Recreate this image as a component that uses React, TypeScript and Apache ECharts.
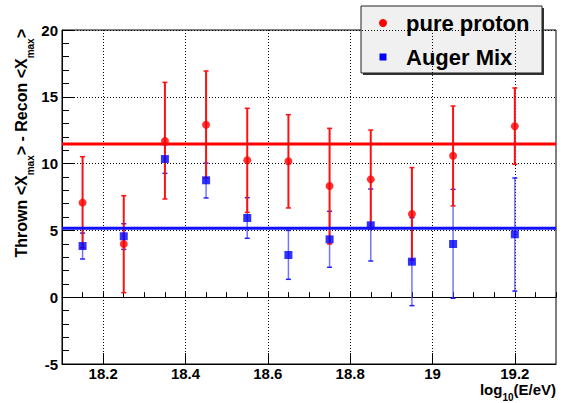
import React, { useEffect, useRef } from "react";
import * as echarts from "echarts";

const energies = [18.15, 18.25, 18.35, 18.45, 18.55, 18.65, 18.75, 18.85, 18.95, 19.05, 19.2];
const protonVals = [7.08, 3.98, 11.69, 12.91, 10.25, 10.17, 8.32, 8.82, 6.23, 10.59, 12.79];
const protonLo = [3.7, 0.34, 7.35, 8.92, 6.35, 6.68, 3.98, 5.1, 2.78, 6.83, 9.95];
const protonHi = [10.52, 7.6, 16.08, 16.93, 14.14, 13.66, 12.64, 12.51, 9.7, 14.31, 15.66];
const mixVals = [3.83, 4.56, 10.34, 8.75, 5.93, 3.16, 4.33, 5.38, 2.66, 3.98, 4.71];
const mixLo = [2.86, 3.58, 9.27, 7.43, 4.41, 1.34, 2.24, 2.71, -0.63, -0.08, 0.46];
const mixHi = [4.8, 5.5, 11.41, 10.04, 7.45, 5.0, 6.43, 8.1, 5.95, 8.07, 8.92];
const protonFit = 11.47;
const mixFit = 5.16;
const xTickLabels = [18.2, 18.4, 18.6, 18.8, 19, 19.2];
const xRange = [18.1, 19.3];
const yRange = [-5, 20];

const FONT = "'Liberation Sans', Arial, Helvetica, sans-serif";

function errorBars(lo: number[], hi: number[], stroke: string, capStroke: string, lw: number) {
  return {
    type: "custom",
    xAxisIndex: 0,
    yAxisIndex: 0,
    data: energies.map((x, i) => [x, lo[i], hi[i]]),
    encode: { x: 0, y: [1, 2] },
    renderItem: (params: any, api: any) => {
      const x = api.value(0);
      const p1 = api.coord([x, api.value(1)]);
      const p2 = api.coord([x, api.value(2)]);
      const cw = 2.5;
      return {
        type: "group",
        children: [
          { type: "line", shape: { x1: p1[0], y1: p1[1], x2: p2[0], y2: p2[1] }, style: { stroke, lineWidth: lw } },
          { type: "line", shape: { x1: p1[0] - cw, y1: p1[1], x2: p1[0] + cw, y2: p1[1] }, style: { stroke: capStroke, lineWidth: 1.5 } },
          { type: "line", shape: { x1: p2[0] - cw, y1: p2[1], x2: p2[0] + cw, y2: p2[1] }, style: { stroke: capStroke, lineWidth: 1.5 } },
        ],
      };
    },
  };
}

export default function App() {
  const ref = useRef<HTMLDivElement>(null);
  useEffect(() => {
    document.body.style.margin = "0";
    const chart = echarts.init(ref.current!, null, { renderer: "svg" });
    const labelStyle = { fontSize: 15, fontWeight: "bold", color: "#000", fontFamily: FONT };
    chart.setOption({
      animation: false,
      backgroundColor: "#fff",
      grid: { left: 62, top: 30, right: 6, bottom: 39, show: true, borderColor: "#000", borderWidth: 1 },
      xAxis: [
        {
          type: "value",
          min: xRange[0],
          max: xRange[1],
          interval: 0.05,
          position: "bottom",
          axisLine: { lineStyle: { color: "#000", width: 1 } },
          axisTick: { inside: true, length: 5, lineStyle: { color: "#000" } },
          axisLabel: { show: false },
          splitLine: { show: false },
        },
        {
          type: "value",
          min: xRange[0],
          max: xRange[1],
          position: "bottom",
          axisLine: { lineStyle: { color: "#000", width: 1 } },
          axisTick: { inside: true, length: 11, customValues: xTickLabels, lineStyle: { color: "#000" } },
          axisLabel: { ...labelStyle, margin: 2, customValues: xTickLabels },
          splitLine: { show: true, lineStyle: { color: "#000", type: [1, 2], width: 1 } },
        },
      ],
      yAxis: {
        type: "value",
        min: yRange[0],
        max: yRange[1],
        interval: 5,
        axisLine: { show: true, lineStyle: { color: "#000", width: 1 } },
        axisTick: { inside: true, length: 13, lineStyle: { color: "#000" } },
        minorTick: { show: true, splitNumber: 5, length: 7, lineStyle: { color: "#000" } },
        axisLabel: { ...labelStyle, margin: 4 },
        splitLine: { show: true, lineStyle: { color: "#000", type: [1, 2], width: 1 } },
      },
      series: [
        {
          type: "line",
          data: [[xRange[0], protonFit], [xRange[1], protonFit]],
          symbol: "none",
          lineStyle: { color: "#ff0000", width: 3 },
        },
        {
          type: "line",
          data: [[xRange[0], mixFit], [xRange[1], mixFit]],
          symbol: "none",
          lineStyle: { color: "#1010ff", width: 3 },
        },
        errorBars(mixLo, mixHi, "rgba(70,70,255,0.75)", "#2020ff", 1.5),
        errorBars(protonLo, protonHi, "#ff1010", "#ff1010", 2),
        {
          type: "scatter",
          data: energies.map((x, i) => [x, protonVals[i]]),
          symbol: "circle",
          symbolSize: 8,
          itemStyle: { color: "#ff0000" },
        },
        {
          type: "scatter",
          data: energies.map((x, i) => [x, mixVals[i]]),
          symbol: "rect",
          symbolSize: 8,
          itemStyle: { color: "#0000ff" },
        },
      ],
      graphic: [
        {
          type: "text",
          x: 21.5,
          y: 29,
          rotation: Math.PI / 2,
          style: {
            text: "{a|Thrown <X}{s|max}{a|> - Recon <X}{s|max}{a|>}",
            align: "right",
            verticalAlign: "middle",
            rich: {
              a: { fontSize: 16, fontWeight: "bold", fontFamily: FONT, fill: "#000", lineHeight: 18 },
              s: { fontSize: 10, fontWeight: "bold", fontFamily: FONT, fill: "#000", lineHeight: 10, padding: [18, 0, 0, 0] },
            },
          },
        },
        {
          type: "text",
          x: 556,
          y: 389.5,
          style: {
            text: "{a|log}{s|10}{a|(E/eV)}",
            align: "right",
            verticalAlign: "middle",
            rich: {
              a: { fontSize: 15, fontWeight: "bold", fontFamily: FONT, fill: "#000", lineHeight: 17 },
              s: { fontSize: 10, fontWeight: "bold", fontFamily: FONT, fill: "#000", lineHeight: 10, padding: [16, 0, 0, 0] },
            },
          },
        },
        {
          type: "group",
          z: 100,
          children: [
            { type: "rect", shape: { x: 363, y: 8, width: 181, height: 67 }, style: { fill: "#333" } },
            { type: "rect", shape: { x: 361, y: 6, width: 181, height: 67 }, style: { fill: "#f0f0f0", stroke: "#222", lineWidth: 1 } },
            { type: "circle", shape: { cx: 383, cy: 23, r: 4 }, style: { fill: "#ff0000" } },
            { type: "rect", shape: { x: 379.5, y: 53.5, width: 7, height: 7 }, style: { fill: "#0000ff" } },
            {
              type: "text",
              x: 406,
              y: 23,
              style: { text: "pure proton", fontSize: 22, fontWeight: "bold", fontFamily: FONT, fill: "#000", verticalAlign: "middle" },
            },
            {
              type: "text",
              x: 406,
              y: 57,
              style: { text: "Auger Mix", fontSize: 22, fontWeight: "bold", fontFamily: FONT, fill: "#000", verticalAlign: "middle" },
            },
          ],
        },
      ],
    });
    return () => chart.dispose();
  }, []);
  return <div ref={ref} style={{ width: 562, height: 403 }} />;
}
